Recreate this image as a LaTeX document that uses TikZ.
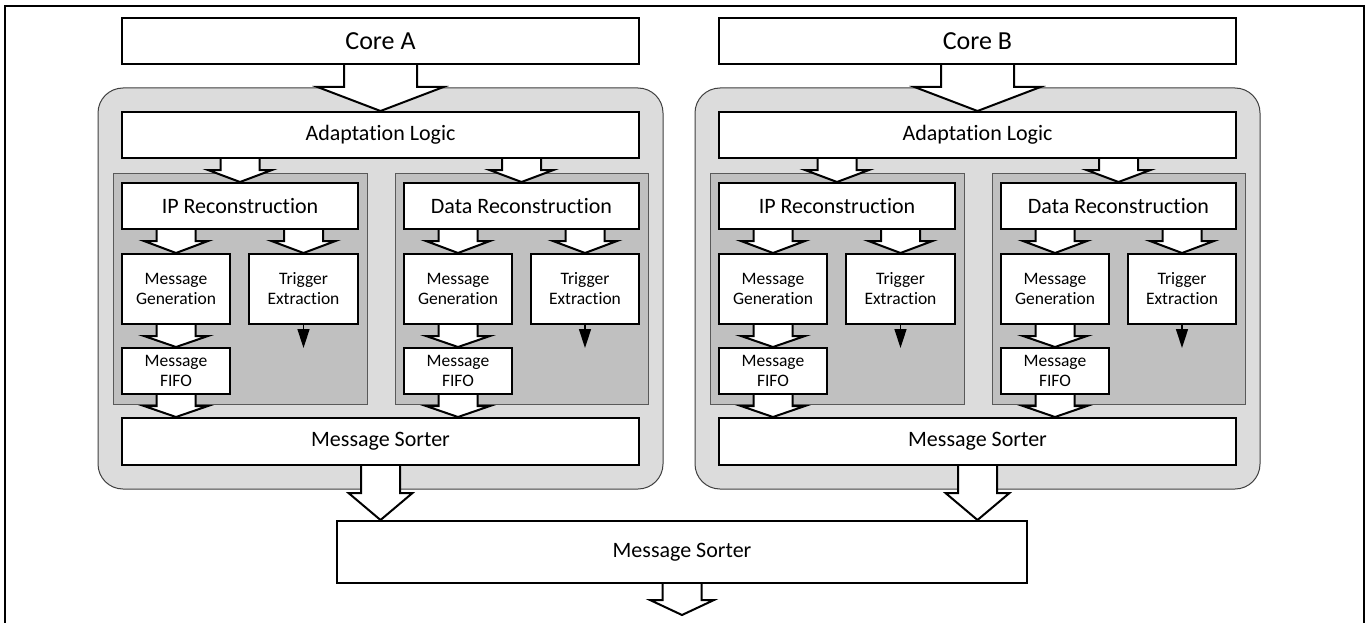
\documentclass[tikz,border=0pt]{standalone}
\usepackage{fontspec}
\setmainfont{Carlito}[Ligatures=NoCommon]
\usetikzlibrary{calc,arrows.meta}
\pgfdeclarelayer{paper}
\pgfdeclarelayer{bg}
\pgfdeclarelayer{fg}
\pgfsetlayers{paper,bg,main,fg}

\definecolor{shellgray}{RGB}{220,220,220}
\definecolor{lanegray}{RGB}{192,192,192}

\tikzset{
  box/.style={draw=black, line width=2pt, fill=white, inner sep=0pt, align=center,
    font=\fontsize{22}{26}\selectfont},
  smallbox/.style={box, font=\fontsize{17.5}{20}\selectfont},
  corebox/.style={box, font=\fontsize{26}{30}\selectfont},
  shell/.style={draw=black!75, line width=1pt, fill=shellgray, rounded corners=25pt, inner sep=0pt},
  lane/.style={draw=black!65, line width=1pt, fill=lanegray, inner sep=0pt},
  fatarrow/.style={draw=black, line width=2pt, fill=white, line join=miter},
  trig/.style={line width=1.5pt, -{Triangle[length=19pt,width=12pt]}},
  frameline/.style={line width=2.5pt}
}

% block arrow: #1 axis point, #2 start point, #3 tip point,
% #4 half shaft width, #5 half head width, #6 head length
\newcommand{\fatarrow}[6]{%
  \draw[fatarrow] let \p1=(#1 |- #2), \p2=(#1 |- #3) in
    (\x1-#4pt,\y1) -- (\x1-#4pt,\y2+#6pt) -- (\x1-#5pt,\y2+#6pt) -- (\x2,\y2)
    -- (\x1+#5pt,\y2+#6pt) -- (\x1+#4pt,\y2+#6pt) -- (\x1+#4pt,\y1);}

% one core with its trace unit: #1 name prefix, #2 horizontal offset, #3 core label
\newcommand{\coreunit}[3]{%
  \begin{scope}[xshift=#2pt]
    \begin{pgfonlayer}{bg}
      \node[shell, minimum width=565pt, minimum height=401pt] (#1shell) at (380.5,288.5) {};
      \node[lane, minimum width=254pt, minimum height=231pt] (#1iplane) at (240,288.5) {};
      \node[lane, minimum width=253pt, minimum height=231pt] (#1dlane) at (521.5,288.5) {};
    \end{pgfonlayer}
    \begin{pgfonlayer}{fg}
      \node[corebox, minimum width=517pt, minimum height=46pt] (#1core) at (380.5,41) {#3};
      \node[box, minimum width=517pt, minimum height=46pt] (#1adapt) at (380.5,135) {Adaptation Logic};
      \node[box, minimum width=236pt, minimum height=46pt] (#1iprec) at (240,206) {IP Reconstruction};
      \node[box, minimum width=235pt, minimum height=46pt] (#1drec) at (521.5,206) {Data Reconstruction};
      \node[smallbox, minimum width=108pt, minimum height=70pt] (#1img) at (176,289) {Message\\Generation};
      \node[smallbox, minimum width=109pt, minimum height=70pt] (#1ite) at (303.5,289) {Trigger\\Extraction};
      \node[smallbox, minimum width=108pt, minimum height=46pt] (#1ififo) at (176,371) {Message\\FIFO};
      \node[smallbox, minimum width=108pt, minimum height=70pt] (#1dmg) at (458,289) {Message\\Generation};
      \node[smallbox, minimum width=108pt, minimum height=70pt] (#1dte) at (585,289) {Trigger\\Extraction};
      \node[smallbox, minimum width=108pt, minimum height=46pt] (#1dfifo) at (458,371) {Message\\FIFO};
      \node[box, minimum width=517pt, minimum height=47pt] (#1ms) at (380.5,441.5) {Message Sorter};
    \end{pgfonlayer}
  \end{scope}
  \fatarrow{#1core.center}{#1core.south}{#1adapt.north}{36.5}{63}{24}
  \fatarrow{#1iprec.center}{#1adapt.south}{#1iprec.north}{19.5}{32}{12}
  \fatarrow{#1drec.center}{#1adapt.south}{#1drec.north}{19.5}{32}{12}
  \fatarrow{#1img.center}{#1iprec.south}{#1img.north}{19.5}{32}{12}
  \fatarrow{#1ite.center}{#1iprec.south}{#1ite.north}{19.5}{32}{12}
  \fatarrow{#1dmg.center}{#1drec.south}{#1dmg.north}{19.5}{32}{12}
  \fatarrow{#1dte.center}{#1drec.south}{#1dte.north}{19.5}{32}{12}
  \fatarrow{#1img.center}{#1img.south}{#1ififo.north}{19.5}{32}{11}
  \fatarrow{#1dmg.center}{#1dmg.south}{#1dfifo.north}{19.5}{32}{11}
  \fatarrow{#1ififo.center}{#1ififo.south}{#1ms.north}{19.5}{32}{11}
  \fatarrow{#1dfifo.center}{#1dfifo.south}{#1ms.north}{19.5}{32}{11}
  \coordinate (#1itrig) at ($(#1ite.south)+(0,23)$);
  \coordinate (#1dtrig) at ($(#1dte.south)+(0,23)$);
  \draw[trig] (#1ite.south) -- (#1itrig);
  \draw[trig] (#1dte.south) -- (#1dtrig);
  \fatarrow{#1ms.center}{#1ms.south}{fin.north}{19.5}{32}{27}
}

\begin{document}
\begin{tikzpicture}[x=1pt, y=-1pt]
  \useasboundingbox (0,0) rectangle (1368,623);
  \begin{pgfonlayer}{paper}
    \fill[white] (0,0) rectangle (1368,623);
  \end{pgfonlayer}
  \draw[frameline] (5,625) -- (5,6) -- (1364,6) -- (1364,625);

  \begin{pgfonlayer}{fg}
    \node[box, minimum width=690pt, minimum height=62pt] (fin) at (682,552) {Message Sorter};
  \end{pgfonlayer}

  \coreunit{a}{0}{Core A}
  \coreunit{b}{597}{Core B}

  \coordinate (outtip) at (682,615);
  \fatarrow{fin.center}{fin.south}{outtip}{19.5}{32}{15}
\end{tikzpicture}
\end{document}
